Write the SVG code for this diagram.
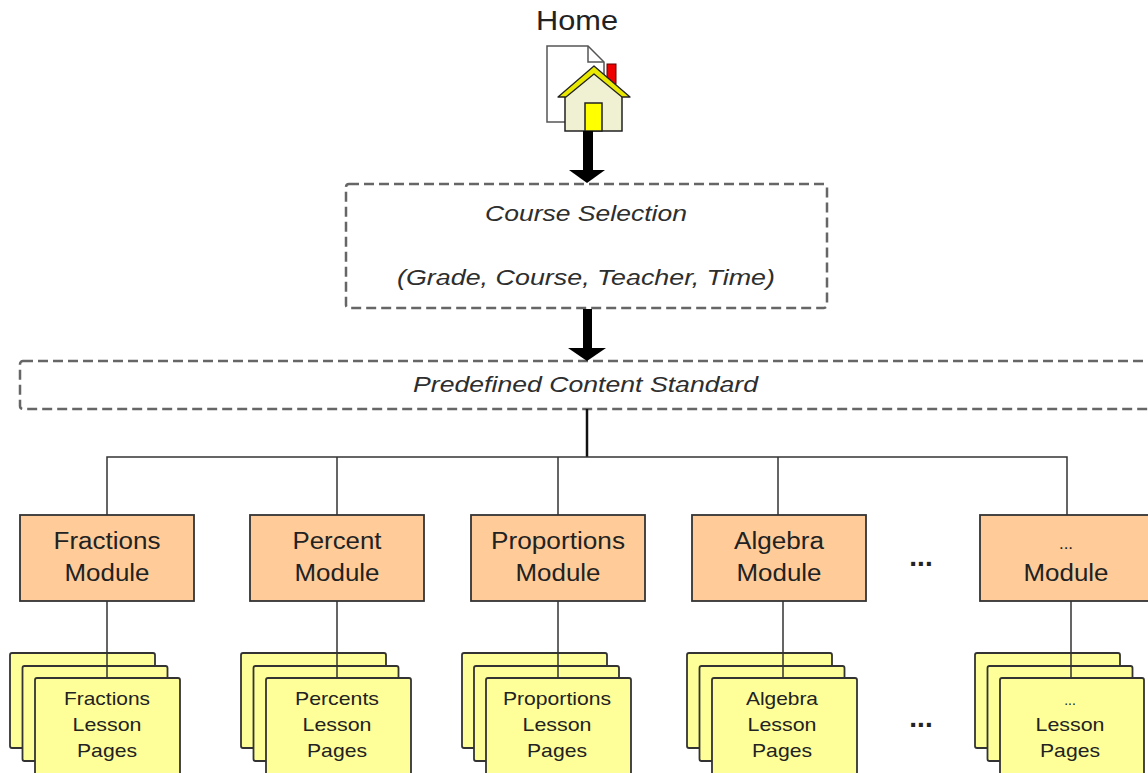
<svg xmlns="http://www.w3.org/2000/svg" width="1148" height="773" viewBox="0 0 1148 773">
<style>
.dash{fill:#fff;stroke:#666;stroke-width:2.5;stroke-dasharray:10 5}
.mod{fill:#FFCC99;stroke:#333;stroke-width:1.8}
.page{fill:#FFFF99;stroke:#333;stroke-width:1.8}
.t{font-family:"Liberation Sans",Arial,sans-serif;fill:#222;text-anchor:middle}
.it{font-family:"Liberation Sans",Arial,sans-serif;fill:#2e2e2e;font-style:italic;text-anchor:middle;font-size:22px}
.mt{font-size:23px}
.lt{font-size:19px}
.ln{stroke:#333;stroke-width:1.5;fill:none}
</style>
<g id="home">
<text class="t" x="577" y="30" font-size="28" textLength="82" lengthAdjust="spacingAndGlyphs">Home</text>
<path d="M547,46 H588 L604,62 V122 H547 Z" fill="#fff" stroke="#555" stroke-width="1.5"/>
<path d="M588,46 V62 H604" fill="none" stroke="#555" stroke-width="1.5"/>
<rect x="607" y="64" width="9" height="20" fill="#e00" stroke="#600" stroke-width="1"/>
<rect x="565" y="92" width="57" height="39" fill="#F0F0D2" stroke="#222" stroke-width="1.5"/>
<polygon points="565,96 594,73 623,96" fill="#F0F0D2"/>
<polygon points="558,97 594,66 630,97 622,97 594,74 566,97" fill="#e8e800" stroke="#222" stroke-width="1.3" stroke-linejoin="round"/>
<rect x="585" y="103" width="17" height="28" fill="#ffff00" stroke="#222" stroke-width="1.5"/>
</g>
<g id="course-selection">
<rect class="dash" x="346" y="184" width="481" height="124" rx="3"/>
<text class="it" x="586" y="221" textLength="202" lengthAdjust="spacingAndGlyphs">Course Selection</text>
<text class="it" x="586" y="285" textLength="378" lengthAdjust="spacingAndGlyphs">(Grade, Course, Teacher, Time)</text>
</g>
<g id="content-standard">
<rect class="dash" x="20" y="361" width="1150" height="48" rx="3"/>
<text class="it" x="585.5" y="392" textLength="345" lengthAdjust="spacingAndGlyphs">Predefined Content Standard</text>
</g>
<g id="mod-fractions">
<rect class="mod" x="20" y="515" width="174" height="86"/>
<text class="t mt" x="107" y="549" textLength="107" lengthAdjust="spacingAndGlyphs">Fractions</text>
<text class="t mt" x="107" y="581" textLength="85" lengthAdjust="spacingAndGlyphs">Module</text>
</g>
<g id="mod-percent">
<rect class="mod" x="250" y="515" width="174" height="86"/>
<text class="t mt" x="337" y="549" textLength="89" lengthAdjust="spacingAndGlyphs">Percent</text>
<text class="t mt" x="337" y="581" textLength="85" lengthAdjust="spacingAndGlyphs">Module</text>
</g>
<g id="mod-proportions">
<rect class="mod" x="471" y="515" width="174" height="86"/>
<text class="t mt" x="558" y="549" textLength="134" lengthAdjust="spacingAndGlyphs">Proportions</text>
<text class="t mt" x="558" y="581" textLength="85" lengthAdjust="spacingAndGlyphs">Module</text>
</g>
<g id="mod-algebra">
<rect class="mod" x="692" y="515" width="174" height="86"/>
<text class="t mt" x="779" y="549" textLength="90" lengthAdjust="spacingAndGlyphs">Algebra</text>
<text class="t mt" x="779" y="581" textLength="85" lengthAdjust="spacingAndGlyphs">Module</text>
</g>
<g id="mod-more">
<rect class="mod" x="980" y="515" width="174" height="86"/>
<text class="t" x="1066" y="549" font-size="17">...</text>
<text class="t mt" x="1066" y="581" textLength="85" lengthAdjust="spacingAndGlyphs">Module</text>
</g>
<g id="ellipsis-modules"><text class="t" x="921" y="566" font-size="28" font-weight="bold">...</text></g>
<g id="ellipsis-pages"><text class="t" x="921" y="727" font-size="28" font-weight="bold">...</text></g>
<g id="pages-fractions">
<rect class="page" x="10" y="653" width="145" height="95" rx="2"/>
<rect class="page" x="22.5" y="666" width="145" height="95" rx="2"/>
<rect class="page" x="35" y="678" width="145" height="100" rx="2"/>
<text class="t lt" x="107" y="705" textLength="86" lengthAdjust="spacingAndGlyphs">Fractions</text>
<text class="t lt" x="107" y="731" textLength="69" lengthAdjust="spacingAndGlyphs">Lesson</text>
<text class="t lt" x="107" y="757" textLength="60" lengthAdjust="spacingAndGlyphs">Pages</text>
</g>
<g id="pages-percents">
<rect class="page" x="241" y="653" width="145" height="95" rx="2"/>
<rect class="page" x="253.5" y="666" width="145" height="95" rx="2"/>
<rect class="page" x="266" y="678" width="145" height="100" rx="2"/>
<text class="t lt" x="337" y="705" textLength="84" lengthAdjust="spacingAndGlyphs">Percents</text>
<text class="t lt" x="337" y="731" textLength="69" lengthAdjust="spacingAndGlyphs">Lesson</text>
<text class="t lt" x="337" y="757" textLength="60" lengthAdjust="spacingAndGlyphs">Pages</text>
</g>
<g id="pages-proportions">
<rect class="page" x="462" y="653" width="145" height="95" rx="2"/>
<rect class="page" x="474" y="666" width="145" height="95" rx="2"/>
<rect class="page" x="486" y="678" width="145" height="100" rx="2"/>
<text class="t lt" x="557" y="705" textLength="108" lengthAdjust="spacingAndGlyphs">Proportions</text>
<text class="t lt" x="557" y="731" textLength="69" lengthAdjust="spacingAndGlyphs">Lesson</text>
<text class="t lt" x="557" y="757" textLength="60" lengthAdjust="spacingAndGlyphs">Pages</text>
</g>
<g id="pages-algebra">
<rect class="page" x="687" y="653" width="145" height="95" rx="2"/>
<rect class="page" x="699.5" y="666" width="145" height="95" rx="2"/>
<rect class="page" x="712" y="678" width="145" height="100" rx="2"/>
<text class="t lt" x="782" y="705" textLength="72" lengthAdjust="spacingAndGlyphs">Algebra</text>
<text class="t lt" x="782" y="731" textLength="69" lengthAdjust="spacingAndGlyphs">Lesson</text>
<text class="t lt" x="782" y="757" textLength="60" lengthAdjust="spacingAndGlyphs">Pages</text>
</g>
<g id="pages-more">
<rect class="page" x="975" y="653" width="145" height="95" rx="2"/>
<rect class="page" x="987.5" y="666" width="145" height="95" rx="2"/>
<rect class="page" x="1000" y="678" width="144" height="100" rx="2"/>
<text class="t" x="1070" y="705" font-size="14">...</text>
<text class="t lt" x="1070" y="731" textLength="69" lengthAdjust="spacingAndGlyphs">Lesson</text>
<text class="t lt" x="1070" y="757" textLength="60" lengthAdjust="spacingAndGlyphs">Pages</text>
</g>
<g id="connectors">
<rect x="583" y="131" width="10" height="40" fill="#000"/>
<polygon points="569,170 605,170 587,183" fill="#000"/>
<rect x="583" y="309" width="9" height="40" fill="#000"/>
<polygon points="568,348 606,348 587,361" fill="#000"/>
<line x1="587" y1="409" x2="587" y2="457" stroke="#111" stroke-width="2.5"/>
<path class="ln" d="M107,515 V457 H1067 V515 M337,457 V515 M558,457 V515 M778,457 V515"/>
<path class="ln" d="M107,601 V678 M337,601 V678 M558,601 V678 M783,601 V678 M1071,601 V678"/>
</g>
</svg>
